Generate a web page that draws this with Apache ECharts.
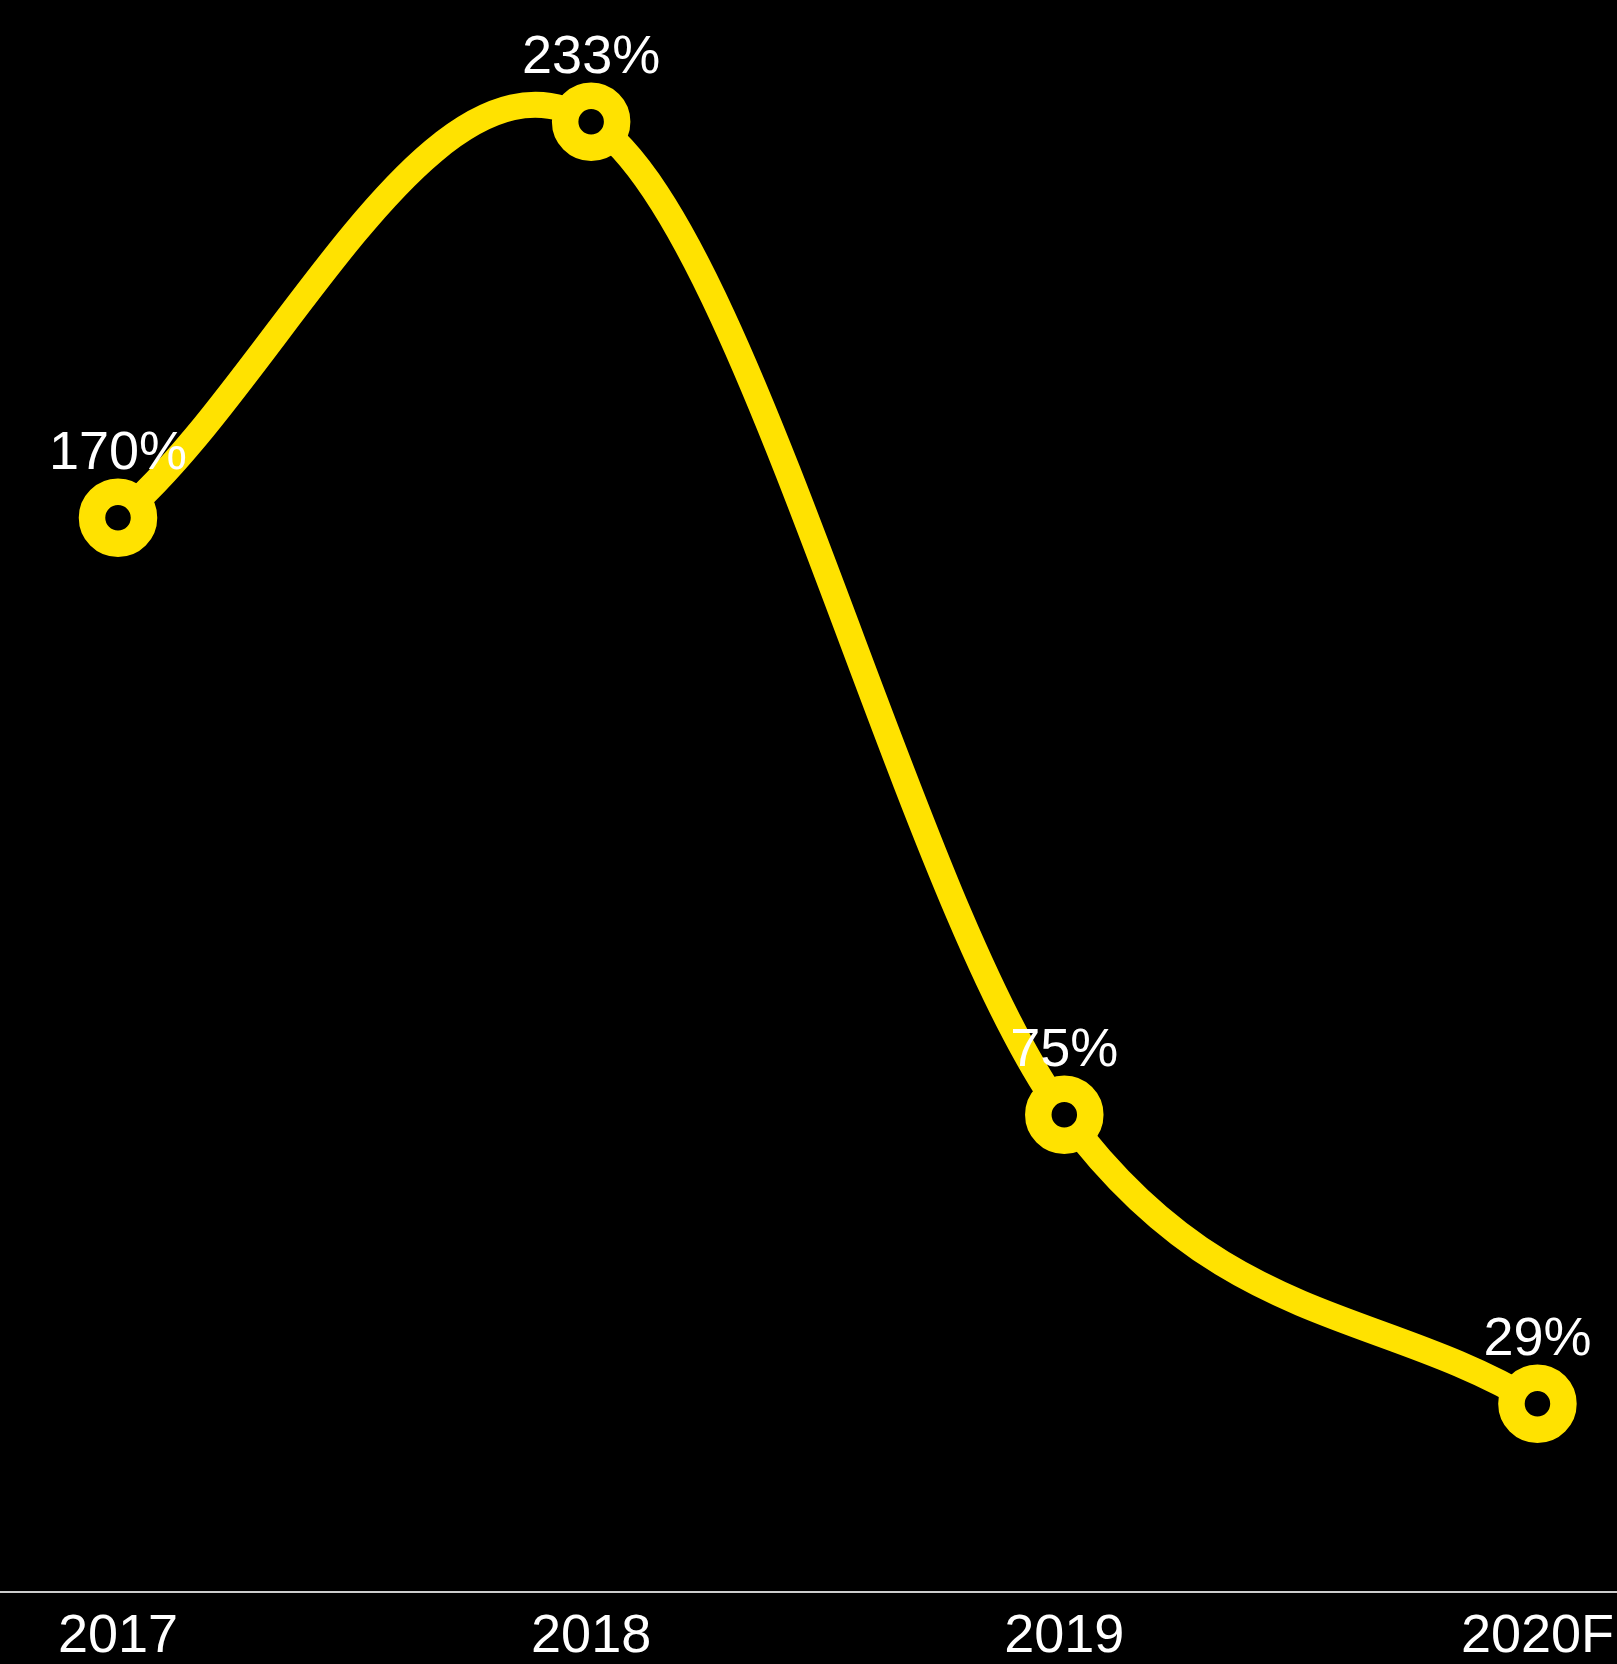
<!DOCTYPE html>
<html>
<head>
<meta charset="utf-8">
<script src="https://cdn.jsdelivr.net/npm/echarts@6/dist/echarts.min.js"></script>
<style>
html,body{margin:0;padding:0;background:#000;overflow:hidden;}
#chart{width:1617px;height:1664px;}
</style>
</head>
<body>
<div id="chart"></div>
<script>
const categories = ['2017', '2018', '2019', '2020F'];
const values = [170, 233, 75, 29];

const YELLOW = '#FFE200';
const FONT = 'Liberation Sans';

// Catmull-Rom curve (phantom endpoints) drawn through the library's coordinates
function renderSegment(params, api) {
  const i = params.dataIndex;
  if (i === 0) return null;
  const n = values.length;
  const pt = k => api.coord([k, values[k]]);
  const P = k => {
    if (k < 0) { const a = pt(0), b = pt(1); return [2 * a[0] - b[0], 2 * a[1] - b[1]]; }
    if (k >= n) { const a = pt(n - 1), b = pt(n - 2); return [2 * a[0] - b[0], 2 * a[1] - b[1]]; }
    return pt(k);
  };
  const p0 = P(i - 2), p1 = P(i - 1), p2 = P(i), p3 = P(i + 1);
  return {
    type: 'bezierCurve',
    shape: {
      x1: p1[0], y1: p1[1], x2: p2[0], y2: p2[1],
      cpx1: p1[0] + (p2[0] - p0[0]) / 6, cpy1: p1[1] + (p2[1] - p0[1]) / 6,
      cpx2: p2[0] - (p3[0] - p1[0]) / 6, cpy2: p2[1] - (p3[1] - p1[1]) / 6
    },
    style: { stroke: YELLOW, lineWidth: 26, fill: 'none', lineCap: 'round' }
  };
}

const chart = echarts.init(document.getElementById('chart'));
chart.setOption({
  backgroundColor: '#000',
  animation: false,
  grid: [
    { left: 118, right: 75, top: 15, bottom: 70, containLabel: false },
    { left: 0, right: 0, top: 15, bottom: 72, containLabel: false }
  ],
  xAxis: [{
    type: 'category',
    gridIndex: 0,
    data: categories,
    boundaryGap: false,
    axisLine: { show: false },
    axisTick: { show: false },
    splitLine: { show: false },
    axisLabel: { color: '#fff', fontSize: 54, fontFamily: FONT, margin: 24 }
  }, {
    type: 'value',
    gridIndex: 1,
    axisLine: { show: true, lineStyle: { color: '#cccccc', width: 2 } },
    axisTick: { show: false },
    axisLabel: { show: false },
    splitLine: { show: false }
  }],
  yAxis: [
    { type: 'value', gridIndex: 0, min: 0, max: 250, show: false, splitLine: { show: false } },
    { type: 'value', gridIndex: 1, min: 0, max: 250, show: false, splitLine: { show: false } }
  ],
  series: [{
    type: 'custom',
    xAxisIndex: 0, yAxisIndex: 0,
    data: values.map((v, i) => [i, v]),
    encode: { x: 0, y: 1 },
    renderItem: renderSegment,
    z: 2,
    silent: true
  }, {
    type: 'line',
    xAxisIndex: 0, yAxisIndex: 0,
    data: values,
    z: 3,
    lineStyle: { width: 0, opacity: 0 },
    symbol: 'circle',
    symbolSize: 52,
    itemStyle: { color: '#000', borderColor: YELLOW, borderWidth: 26.5 },
    label: {
      show: true, position: 'top', distance: -3,
      color: '#fff', fontSize: 54, fontFamily: FONT,
      formatter: p => p.value + '%'
    }
  }]
});
</script>
</body>
</html>
